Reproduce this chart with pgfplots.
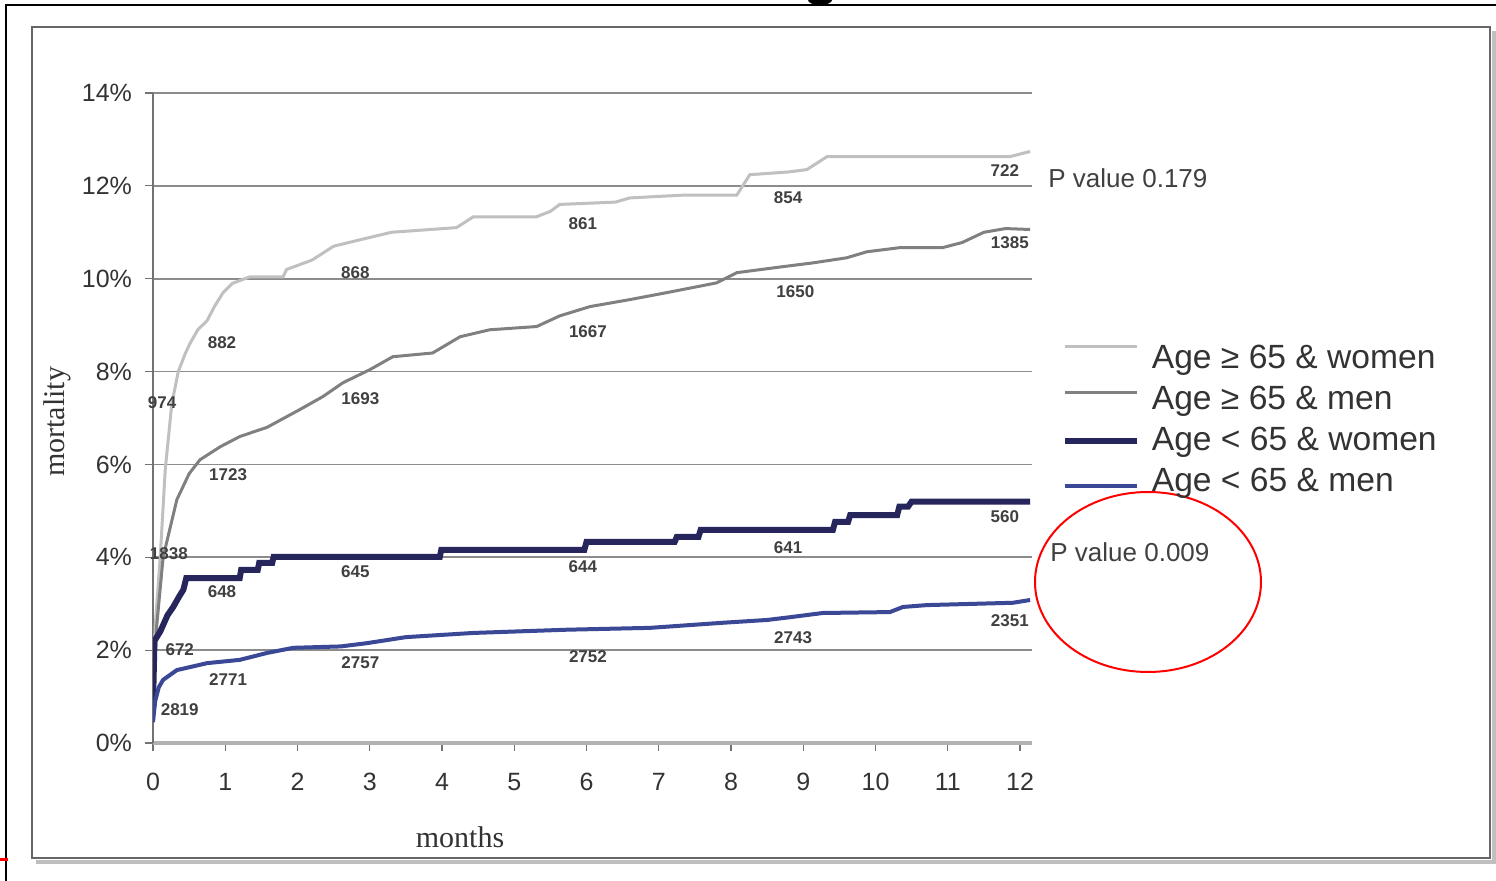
\documentclass[border=0pt]{standalone}
\usepackage{pgfplots}
\pgfplotsset{compat=1.18}
\usepackage{fontspec}
\setmainfont{Liberation Sans}
\newfontfamily\seriffont{Liberation Serif}
\definecolor{c1}{RGB}{192,192,192}
\definecolor{c2}{RGB}{128,128,128}
\definecolor{c3}{RGB}{38,38,92}
\definecolor{c4}{RGB}{58,72,150}
\tikzset{lab/.style={font=\bfseries\fontsize{8.5}{10}\selectfont, text=black!75, inner sep=0pt}}
\pgfplotsset{
  leg1/.style={legend image code/.code={\draw[c1, line width=1.5pt] (0pt,7pt) -- (36pt,7pt);}},
  leg2/.style={legend image code/.code={\draw[c2, line width=1.5pt] (0pt,4.5pt) -- (36pt,4.5pt);}},
  leg3/.style={legend image code/.code={\draw[c3, line width=3pt] (0pt,1pt) -- (36pt,1pt);}},
  leg4/.style={legend image code/.code={\draw[c4, line width=2pt] (0pt,-1pt) -- (36pt,-1pt);}},
}
\begin{document}
\begin{tikzpicture}
\begin{scope}[x=0.5pt,y=-0.5pt]
\useasboundingbox (0,0) rectangle (1496,881);
\fill[white] (0,0) rectangle (1496,881);
\draw[black, line width=1.1pt] (6,881) -- (6,5) -- (1496,5);
\fill[black] (820,0) ellipse [x radius=6pt, y radius=2.5pt];
\draw[black!25, line width=2pt] (36,862) -- (1494,862) -- (1494,31);
\draw[black!60, line width=1.3pt] (32,27) rectangle (1490,858);
\draw[red, line width=1.5pt] (0,860) -- (8,860);
\node[anchor=west, text=black!75, font=\fontsize{13}{15}\selectfont, inner sep=0pt] at (1048,178) {P value 0.179};
\node[anchor=west, text=black!75, font=\fontsize{13}{15}\selectfont, inner sep=0pt] at (1050,552) {P value 0.009};
\draw[red, line width=1pt] (1148,582) ellipse [x radius=56.5pt, y radius=45pt];
\node[rotate=90, text=black!80, font=\seriffont\fontsize{15}{17}\selectfont, inner sep=0pt] at (57,422) {mortality};
\node[text=black!80, font=\seriffont\fontsize{15}{17}\selectfont, inner sep=0pt] at (460,837) {months};
\end{scope}
\begin{axis}[
  at={(76.5pt,-371.5pt)}, anchor=south west, scale only axis,
  width=439.5pt, height=325pt,
  xmin=0, xmax=12.166, ymin=0, ymax=14,
  clip mode=individual,
  axis lines*=left,
  x axis line style={black!30, line width=2pt},
  y axis line style={black!55, line width=0.8pt},
  ymajorgrids, major grid style={black!45, line width=0.9pt},
  xtick={0,1,2,3,4,5,6,7,8,9,10,11,12},
  xticklabels={0,1,2,3,4,5,6,7,8,9,10,11,12},
  ytick={0,2,4,6,8,10,12,14},
  yticklabels={0\%,2\%,4\%,6\%,8\%,10\%,12\%,14\%},
  tick style={black!55, line width=0.6pt},
  major tick length=4pt, tick align=outside,
  ticklabel style={font=\fontsize{12.5}{14}\selectfont, text=black!80},
  yticklabel style={xshift=-3pt},
  xticklabel style={yshift=-7.5pt},
  legend style={at={(rel axis cs:1.034,0.6127)}, anchor=north west, draw=none, fill=none,
    inner sep=0pt, outer sep=0pt,
    font=\fontsize{16.8}{19}\selectfont, text=black!80, row sep=4.5pt,
    nodes={inner sep=0pt, text height=12pt, text depth=4pt},
    /tikz/every odd column/.append style={column sep=6pt}},
  legend cell align=left,
]
\addplot[c1, line width=1.5pt, leg1] coordinates {
(0,0.8) (0.03,2.5) (0.1,4.0) (0.17,5.9) (0.26,7.3) (0.35,8.0) (0.45,8.4) (0.51,8.6) (0.62,8.9) (0.75,9.1)
(0.85,9.4) (0.97,9.7) (1.1,9.9) (1.34,10.04) (1.8,10.04) (1.85,10.2) (2.2,10.4) (2.5,10.7) (2.87,10.84)
(3.3,11.0) (4.2,11.1) (4.43,11.33) (5.3,11.33) (5.5,11.45) (5.63,11.6) (6.4,11.65) (6.6,11.74) (7.34,11.8)
(8.08,11.8) (8.26,12.24) (8.8,12.3) (9.05,12.35) (9.33,12.63) (11.86,12.63) (12.14,12.74)};
\addlegendentry{Age ≥ 65 \& women}
\addplot[c2, line width=1.5pt, leg2] coordinates {
(0,0.8) (0.05,2.5) (0.14,4.0) (0.33,5.24) (0.5,5.8) (0.65,6.1) (0.93,6.38) (1.2,6.6) (1.58,6.8) (2.03,7.18)
(2.35,7.46) (2.63,7.76) (3.0,8.04) (3.32,8.32) (3.87,8.4) (4.25,8.75) (4.66,8.9) (5.31,8.97) (5.63,9.2)
(6.05,9.4) (6.6,9.55) (7.11,9.7) (7.8,9.91) (8.08,10.13) (8.72,10.26) (9.13,10.34) (9.6,10.45) (9.88,10.58)
(10.34,10.67) (10.93,10.67) (11.2,10.78) (11.5,11.0) (11.8,11.08) (12.14,11.06)};
\addlegendentry{Age ≥ 65 \& men}
\addplot[c3, line width=3pt, leg3] coordinates {
(0,0.8) (0.02,2.2) (0.1,2.4) (0.2,2.75) (0.28,2.93) (0.36,3.15) (0.42,3.3) (0.46,3.55) (1.2,3.55) (1.22,3.73)
(1.45,3.73) (1.47,3.88) (1.65,3.88) (1.67,4.01) (3.97,4.01) (3.99,4.16) (5.97,4.16) (6.0,4.33) (7.22,4.33)
(7.25,4.44) (7.55,4.44) (7.58,4.59) (9.41,4.59) (9.44,4.76) (9.62,4.76) (9.65,4.91) (10.3,4.91) (10.33,5.09)
(10.45,5.09) (10.5,5.2) (12.14,5.2)};
\addlegendentry{Age < 65 \& women}
\addplot[c4, line width=2pt, leg4] coordinates {
(0,0.45) (0.03,0.9) (0.08,1.2) (0.14,1.36) (0.33,1.57) (0.75,1.72) (1.2,1.79) (1.58,1.94) (1.94,2.05)
(2.6,2.08) (2.96,2.15) (3.5,2.28) (4.43,2.37) (5.73,2.44) (6.88,2.48) (7.89,2.59) (8.5,2.65) (8.82,2.71)
(9.27,2.8) (10.2,2.82) (10.38,2.93) (10.71,2.97) (11.9,3.02) (12.14,3.08)};
\addlegendentry{Age < 65 \& men}
\node[lab] at (axis cs:0.125,7.34) {974};
\node[lab] at (axis cs:0.955,8.62) {882};
\node[lab] at (axis cs:2.80,10.14) {868};
\node[lab] at (axis cs:5.95,11.18) {861};
\node[lab] at (axis cs:8.79,11.74) {854};
\node[lab] at (axis cs:11.79,12.32) {722};
\node[lab] at (axis cs:1.04,5.77) {1723};
\node[lab] at (axis cs:2.87,7.41) {1693};
\node[lab] at (axis cs:6.02,8.85) {1667};
\node[lab] at (axis cs:8.89,9.73) {1650};
\node[lab] at (axis cs:11.86,10.77) {1385};
\node[lab] at (axis cs:0.22,4.07) {1838};
\node[lab] at (axis cs:0.955,3.27) {648};
\node[lab] at (axis cs:2.80,3.68) {645};
\node[lab] at (axis cs:5.95,3.79) {644};
\node[lab] at (axis cs:8.79,4.20) {641};
\node[lab] at (axis cs:11.79,4.87) {560};
\node[lab] at (axis cs:0.37,2.0) {672};
\node[lab] at (axis cs:1.04,1.36) {2771};
\node[lab] at (axis cs:2.87,1.72) {2757};
\node[lab] at (axis cs:6.02,1.85) {2752};
\node[lab] at (axis cs:8.86,2.26) {2743};
\node[lab] at (axis cs:11.86,2.63) {2351};
\node[lab] at (axis cs:0.37,0.71) {2819};
\end{axis}
\end{tikzpicture}
\end{document}
